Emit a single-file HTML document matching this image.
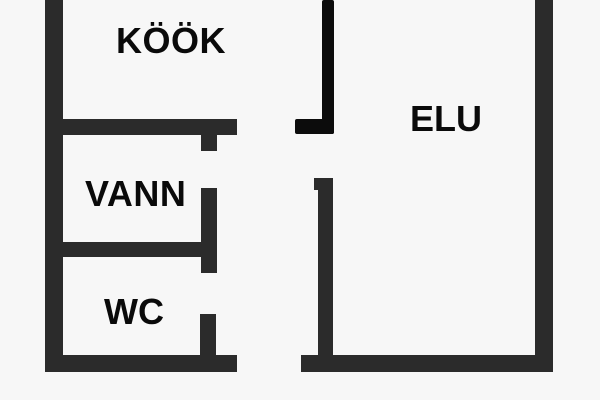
<!DOCTYPE html>
<html><head><meta charset="utf-8"><style>
body{margin:0;width:600px;height:400px;background:#f7f7f7;position:relative;overflow:hidden;font-family:"Liberation Sans",sans-serif}
.w{position:absolute;background:#2b2b2b}
.k{position:absolute;background:#0c0c0c;border-radius:2px}
.t{position:absolute;font-weight:bold;font-size:36px;color:#0a0a0a;line-height:1}
</style></head><body>
<div class="w" style="left:45px;top:0;width:18px;height:372px"></div>
<div class="w" style="left:45px;top:119px;width:192px;height:16px"></div>
<div class="w" style="left:201px;top:119px;width:16px;height:32px"></div>
<div class="w" style="left:201px;top:188px;width:16px;height:85px"></div>
<div class="w" style="left:45px;top:242px;width:172px;height:15px"></div>
<div class="w" style="left:200px;top:314px;width:16px;height:50px"></div>
<div class="w" style="left:45px;top:355px;width:192px;height:17px"></div>
<div class="k" style="left:322px;top:0;width:12px;height:134px"></div>
<div class="k" style="left:295px;top:119px;width:39px;height:15px"></div>
<div class="w" style="left:314px;top:178px;width:19px;height:12px"></div>
<div class="w" style="left:318px;top:178px;width:15px;height:194px"></div>
<div class="w" style="left:301px;top:355px;width:252px;height:17px"></div>
<div class="w" style="left:535px;top:0;width:18px;height:372px"></div>
<div class="t" style="left:116px;top:23px;letter-spacing:0.5px">KÖÖK</div>
<div class="t" style="left:410px;top:101px">ELU</div>
<div class="t" style="left:85px;top:176px;letter-spacing:0.5px">VANN</div>
<div class="t" style="left:104px;top:294px">WC</div>
</body></html>
